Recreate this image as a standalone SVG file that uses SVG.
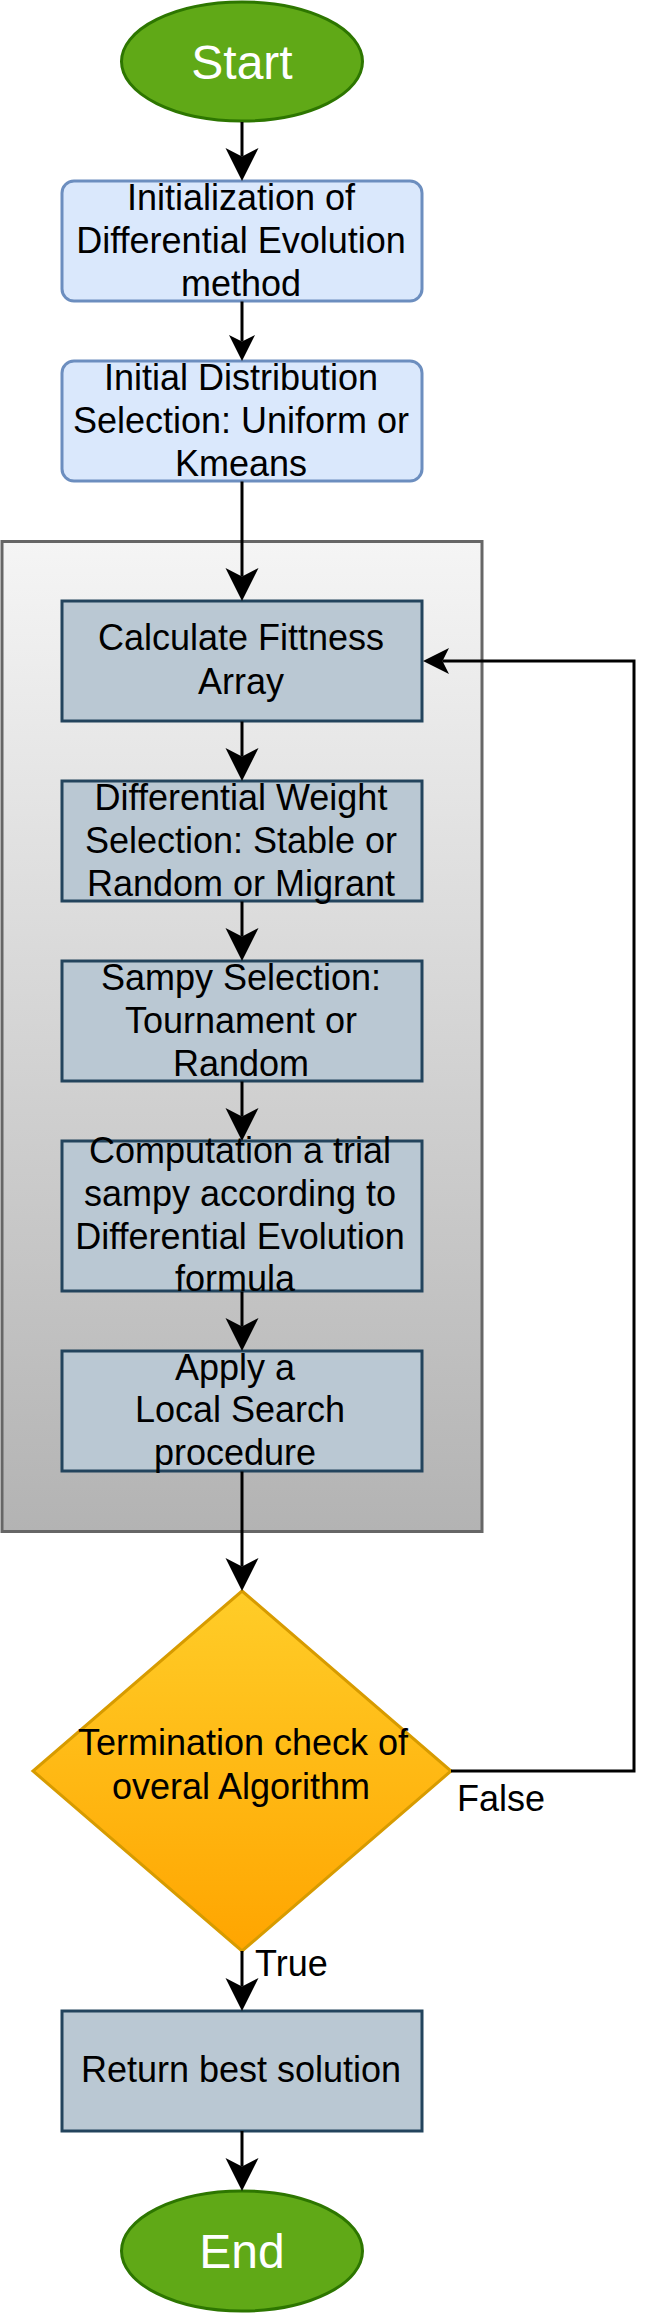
<svg xmlns="http://www.w3.org/2000/svg" width="660" height="2313" viewBox="0 0 660 2313">
  <defs>
    <linearGradient id="gGray" x1="0" y1="0" x2="0" y2="1">
      <stop offset="0" stop-color="#f5f5f5"/>
      <stop offset="1" stop-color="#b3b3b3"/>
    </linearGradient>
    <linearGradient id="gOrange" x1="0" y1="0" x2="0" y2="1">
      <stop offset="0" stop-color="#ffcd28"/>
      <stop offset="1" stop-color="#ffa500"/>
    </linearGradient>
    <marker id="arrowL" markerUnits="userSpaceOnUse" viewBox="0 0 34 34" refX="8.5" refY="17" markerWidth="34" markerHeight="34" orient="auto">
      <path d="M33,17 L0,0.5 L8.5,17 L0,33.5 Z" fill="#000"/>
    </marker>
    <marker id="arrowS" markerUnits="userSpaceOnUse" viewBox="0 0 27 27" refX="6.5" refY="13.5" markerWidth="27" markerHeight="27" orient="auto">
      <path d="M26,13.5 L0,0.5 L6.5,13.5 L0,26.5 Z" fill="#000"/>
    </marker>
  </defs>
  <style>
    .lbl { font-family: "Liberation Sans", Arial, Helvetica, sans-serif; font-size: 36px; fill: #000; text-anchor: middle; }
    .term { font-family: "Liberation Sans", Arial, Helvetica, sans-serif; font-size: 48px; fill: #fff; text-anchor: middle; }
    .edge { font-family: "Liberation Sans", Arial, Helvetica, sans-serif; font-size: 36px; fill: #000; }
    .ell { fill: #60a917; stroke: #2d7600; stroke-width: 3; }
    .blue { fill: #dae8fc; stroke: #6c8ebf; stroke-width: 3; }
    .step { fill: #bac8d3; stroke: #23445d; stroke-width: 3; }
    .conn { fill: none; stroke: #000; stroke-width: 3; }
  </style>

  <g id="container">
    <rect x="2" y="541.5" width="480" height="990" fill="url(#gGray)" stroke="#666666" stroke-width="3"/>
  </g>

  <g id="start">
    <ellipse class="ell" cx="242" cy="61.5" rx="120.5" ry="59.5"/>
    <text class="term" x="242" y="78.5">Start</text>
  </g>

  <g id="init">
    <rect class="blue" x="62" y="181" width="360" height="120" rx="12" ry="12"/>
    <text class="lbl" x="241" y="210">Initialization of</text>
    <text class="lbl" x="241" y="253">Differential Evolution</text>
    <text class="lbl" x="241" y="296">method</text>
  </g>

  <g id="dist">
    <rect class="blue" x="62" y="361" width="360" height="120" rx="12" ry="12"/>
    <text class="lbl" x="241" y="390">Initial Distribution</text>
    <text class="lbl" x="241" y="433">Selection: Uniform or</text>
    <text class="lbl" x="241" y="476">Kmeans</text>
  </g>

  <g id="fitness">
    <rect class="step" x="62" y="601" width="360" height="120"/>
    <text class="lbl" x="241" y="650">Calculate Fittness</text>
    <text class="lbl" x="241" y="694">Array</text>
  </g>

  <g id="weight">
    <rect class="step" x="62" y="781" width="360" height="120"/>
    <text class="lbl" x="241" y="810">Differential Weight</text>
    <text class="lbl" x="241" y="853">Selection: Stable or</text>
    <text class="lbl" x="241" y="896">Random or Migrant</text>
  </g>

  <g id="sampling">
    <rect class="step" x="62" y="961" width="360" height="120"/>
    <text class="lbl" x="241" y="990">Sampy Selection:</text>
    <text class="lbl" x="241" y="1033">Tournament or</text>
    <text class="lbl" x="241" y="1076">Random</text>
  </g>

  <g id="trial">
    <rect class="step" x="62" y="1141" width="360" height="150"/>
    <text class="lbl" x="240" y="1163">Computation a trial</text>
    <text class="lbl" x="240" y="1206">sampy according to</text>
    <text class="lbl" x="240" y="1249">Differential Evolution</text>
    <text class="lbl" x="235" y="1291">formula</text>
  </g>

  <g id="local">
    <rect class="step" x="62" y="1351" width="360" height="120"/>
    <text class="lbl" x="235" y="1380">Apply a</text>
    <text class="lbl" x="240" y="1422">Local Search</text>
    <text class="lbl" x="235" y="1465">procedure</text>
  </g>

  <g id="check">
    <polygon points="242,1591 451,1771 242,1951 33,1771" fill="url(#gOrange)" stroke="#d79b00" stroke-width="3"/>
    <text class="lbl" x="243" y="1755">Termination check of</text>
    <text class="lbl" x="241" y="1799">overal Algorithm</text>
  </g>

  <g id="result">
    <rect class="step" x="62" y="2011" width="360" height="120"/>
    <text class="lbl" x="241" y="2082">Return best solution</text>
  </g>

  <g id="end">
    <ellipse class="ell" cx="242" cy="2251" rx="120.5" ry="60"/>
    <text class="term" x="242" y="2268">End</text>
  </g>

  <g id="connectors">
    <path class="conn" d="M242,122 V156.5" marker-end="url(#arrowL)"/>
    <path class="conn" d="M242,301.5 V341.5" marker-end="url(#arrowS)"/>
    <path class="conn" d="M242,481.5 V576.5" marker-end="url(#arrowL)"/>
    <path class="conn" d="M242,721.5 V756.5" marker-end="url(#arrowL)"/>
    <path class="conn" d="M242,901.5 V936.5" marker-end="url(#arrowL)"/>
    <path class="conn" d="M242,1081.5 V1116.5" marker-end="url(#arrowL)"/>
    <path class="conn" d="M242,1291.5 V1326.5" marker-end="url(#arrowL)"/>
    <path class="conn" d="M242,1471.5 V1566.5" marker-end="url(#arrowL)"/>
    <path class="conn" d="M242,1951 V1986.5" marker-end="url(#arrowL)"/>
    <path class="conn" d="M242,2131 V2166.5" marker-end="url(#arrowL)"/>
    <path class="conn" d="M451,1771 H634 V661 H442.5" marker-end="url(#arrowS)"/>
    <text class="edge" x="457" y="1811">False</text>
    <text class="edge" x="255" y="1976">True</text>
  </g>
</svg>
